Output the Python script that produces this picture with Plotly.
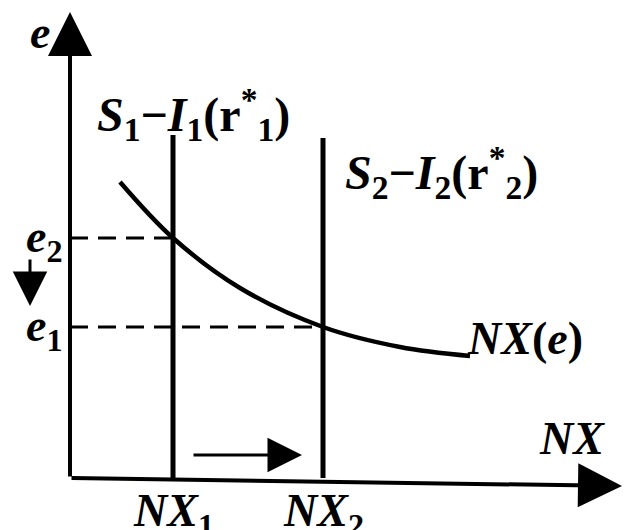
import plotly.graph_objects as go

# ---- data (diagram units: origin at axes corner) ----
nx_levels = [103, 253]          # NX1, NX2
e_levels = [240, 151]           # e2, e1
sv_tops = [343, 340]            # tops of the S-I vertical lines
curve_x = [50, 103, 170, 253, 330, 400]
curve_y = [296, 240, 190, 151, 131, 122]
sv_labels = ["<i>S</i><sub>1</sub>−<i>I</i><sub>1</sub>(r<sup>*</sup><sub>1</sub>)",
             "<i>S</i><sub>2</sub>−<i>I</i><sub>2</sub>(r<sup>*</sup><sub>2</sub>)"]
x_tick_labels = ["<i>NX</i><sub>1</sub>", "<i>NX</i><sub>2</sub>"]
e_tick_labels = ["<i>e</i><sub>2</sub>", "<i>e</i><sub>1</sub>"]

FONT = "Liberation Serif"
fig = go.Figure()

# NX(e) curve
fig.add_trace(go.Scatter(x=curve_x, y=curve_y, mode="lines",
                         line=dict(color="black", width=4.5, shape="spline"),
                         hoverinfo="skip"))
# vertical S-I lines
for xv, top in zip(nx_levels, sv_tops):
    fig.add_trace(go.Scatter(x=[xv, xv], y=[0, top], mode="lines",
                             line=dict(color="black", width=5), hoverinfo="skip"))
# dashed guides
for xv, ev in zip(nx_levels, e_levels):
    fig.add_trace(go.Scatter(x=[0, xv], y=[ev, ev], mode="lines",
                             line=dict(color="black", width=3, dash="18px,10px"),
                             hoverinfo="skip"))

ann = []
def arrow(x0, y0, x1, y1, w, size):
    ann.append(dict(x=x1, y=y1, ax=x0, ay=y0, xref="x", yref="y", axref="x", ayref="y",
                    showarrow=True, arrowhead=2, arrowwidth=w, arrowsize=size,
                    arrowcolor="black", text=""))

arrow(0, 0, 0, 466, 4, 2.2)          # y axis
arrow(0, 0, 552, -8, 4, 2.2)         # x axis
arrow(122, 23, 232, 23, 3, 2.3)      # NX shift arrow
arrow(-40, 220, -40, 172, 3, 2.3)    # e fall arrow

def label(x, y, text, size=46):
    ann.append(dict(x=x, y=y, xref="x", yref="y", text=text, showarrow=False,
                    font=dict(family=FONT, size=size, color="black", weight="bold")))

label(-30, 446, "<i>e</i>")
for ev, t in zip(e_levels, e_tick_labels):
    label(-26, ev - 2, t)
for xv, t in zip(nx_levels, x_tick_labels):
    label(xv, -36, t)
label(123, 364, sv_labels[0], 48)
label(371, 306, sv_labels[1], 48)
label(455, 140, "<i>NX</i>(<i>e</i>)")
label(502, 40, "<i>NX</i>")

fig.update_layout(
    width=634, height=530, margin=dict(l=0, r=0, t=0, b=0),
    paper_bgcolor="white", plot_bgcolor="white", showlegend=False,
    xaxis=dict(range=[-62, 572], visible=False, fixedrange=True),
    yaxis=dict(range=[-60, 470], visible=False, fixedrange=True),
    annotations=ann,
)
fig.write_html("out.html")
